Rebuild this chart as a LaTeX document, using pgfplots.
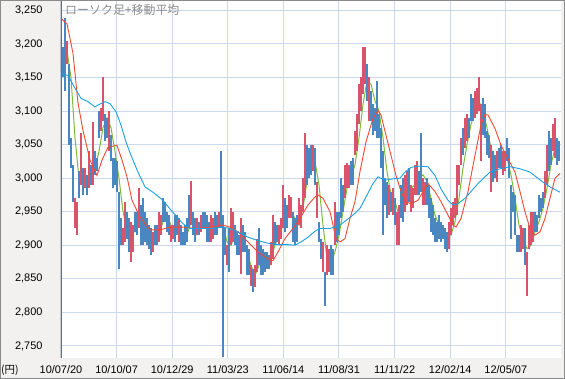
\documentclass[border=0pt]{standalone}
\usepackage{pgfplots}
\usepackage{pgfplotstable}
\pgfplotsset{compat=1.18}
\usepackage{fontspec}
\setmainfont{Liberation Sans}
\newfontfamily\jp{Noto Sans CJK JP}
\definecolor{candleRed}{HTML}{D9546A}
\definecolor{candleBlue}{HTML}{4A86C0}
\definecolor{maGreen}{HTML}{7DBB3C}
\definecolor{maRed}{HTML}{F04A30}
\definecolor{maBlue}{HTML}{1BA1E2}
\definecolor{gridBlue}{HTML}{CCD8EE}
\definecolor{bgGray}{HTML}{F2F1EF}
\definecolor{frameGray}{HTML}{8A8A8A}
\definecolor{axisGray}{HTML}{6E6E6E}
\definecolor{titleGray}{HTML}{8C8C8C}

\pgfplotstableread{
x lo hi c
0 3160 3210 1
2 3150 3195 0
4 3130 3238 0
6 3170 3205 1
8 3050 3170 0
10 3015 3060 0
12 2965 3020 0
14 2925 2970 1
16 2915 2965 1
18 2970 3010 0
20 2990 3068 1
22 2975 3015 0
24 2985 3015 1
26 2975 3005 0
28 2985 3040 1
30 2990 3020 0
32 2990 3083 1
34 3005 3040 0
36 3010 3030 0
38 3060 3100 0
40 3070 3105 1
42 3085 3150 1
44 3055 3095 0
46 3060 3090 0
48 3040 3100 1
50 3025 3065 0
52 2985 3030 0
54 2990 3030 0
56 2980 3025 0
58 2865 2980 0
60 2900 2940 0
62 2900 2925 1
64 2905 2965 1
66 2910 2950 0
68 2890 2940 0
70 2875 2935 1
72 2890 2930 1
74 2920 2950 0
76 2915 2950 0
78 2925 2985 1
80 2900 2960 0
82 2900 2970 0
84 2905 2950 0
86 2900 2940 0
88 2895 2930 0
90 2885 2925 0
92 2890 2920 1
94 2900 2930 0
96 2900 2930 0
98 2905 2950 1
100 2915 2945 1
102 2935 2970 0
104 2935 2965 0
106 2920 2950 0
108 2915 2945 0
110 2905 2930 1
112 2910 2930 1
114 2905 2945 0
116 2915 2945 0
118 2905 2940 1
120 2900 2930 0
122 2900 2920 0
124 2900 2930 0
126 2905 2940 0
128 2925 2975 0
130 2930 2996 1
132 2915 2950 0
134 2905 2940 0
136 2915 2940 1
138 2915 2935 0
140 2920 2945 1
142 2925 2950 0
144 2925 2950 0
146 2905 2945 0
148 2905 2935 0
150 2905 2945 1
152 2910 2940 1
154 2915 2950 0
156 2915 2945 0
158 2925 2950 1
160 2925 3040 0
162 2733 2945 0
164 2885 2925 0
166 2870 2900 1
168 2860 2925 0
170 2900 2955 1
172 2905 2950 1
174 2900 2930 0
176 2885 2920 0
178 2885 2915 0
180 2857 2940 1
182 2890 2930 0
184 2890 2920 0
186 2855 2900 0
188 2855 2895 0
190 2840 2870 1
192 2830 2865 0
194 2838 2870 1
196 2860 2910 1
198 2870 2925 0
200 2855 2900 0
202 2855 2895 0
204 2860 2890 0
206 2865 2890 0
208 2865 2885 0
210 2870 2905 1
212 2880 2945 1
214 2900 2935 0
216 2905 2930 0
218 2900 2930 1
220 2910 2940 1
222 2925 2990 1
224 2920 2970 0
226 2925 2960 0
228 2940 2975 1
230 2940 2972 1
232 2905 2950 0
234 2900 2940 0
236 2905 2945 0
238 2930 2970 1
240 2925 2960 1
242 2950 3000 1
244 2970 3068 1
246 2990 3050 0
248 3000 3045 0
250 3005 3050 0
252 3010 3050 1
254 2990 3045 0
256 2940 2995 1
258 2905 2935 0
260 2880 2910 0
262 2860 2905 1
264 2810 2860 0
266 2855 2900 1
268 2860 2895 1
270 2855 2900 0
272 2855 2895 0
274 2900 2965 1
276 2905 2950 0
278 2915 2950 0
280 2940 3000 0
282 2950 2990 0
284 2970 3020 1
286 2985 3022 1
288 2985 3020 1
290 2990 3025 0
292 2990 3030 0
294 3035 3070 1
296 3040 3095 1
298 3080 3140 1
300 3100 3150 1
302 3125 3195 1
304 3140 3195 1
306 3115 3170 0
308 3085 3150 1
310 3085 3130 0
312 3065 3110 0
314 3070 3105 0
316 3060 3145 0
318 3060 3095 0
320 3015 3075 0
322 2915 3040 0
324 2960 3000 0
326 2940 2995 0
328 2945 2990 1
330 2950 2980 0
332 2945 2985 1
334 2930 2970 0
336 2900 2950 1
338 2900 2960 1
340 2940 2990 0
342 2935 3000 0
344 2950 3005 1
346 2960 3010 1
348 2965 3015 0
350 2950 2990 1
352 2955 2985 1
354 2975 3020 1
356 2975 3025 1
358 2975 3010 0
360 2980 3068 0
362 2960 3000 1
364 2960 2995 1
366 2960 3000 0
368 2940 2990 0
370 2920 2970 0
372 2915 2960 0
374 2905 2940 0
376 2905 2935 0
378 2910 2945 0
380 2905 2935 0
382 2910 2930 0
384 2895 2925 0
386 2890 2920 0
388 2895 2935 1
390 2915 2955 1
392 2930 2965 1
394 2940 2970 1
396 2945 3020 1
398 2990 3020 1
400 3020 3060 1
402 3035 3075 0
404 3045 3090 1
406 3055 3095 1
408 3060 3090 0
410 3085 3125 0
412 3085 3120 0
414 3090 3130 1
416 3095 3135 1
418 3100 3150 1
420 3025 3110 1
422 3065 3120 0
424 3060 3110 0
426 3035 3070 0
428 3030 3065 0
430 2980 3050 1
432 2995 3040 0
434 3000 3035 0
436 2995 3040 1
438 3015 3045 0
440 3015 3050 0
442 3005 3040 1
444 3010 3040 1
446 3025 3060 0
448 3000 3045 0
450 2910 2990 0
452 2950 2980 0
454 2915 2975 0
456 2890 2915 0
458 2890 2915 0
460 2890 2930 1
462 2895 2925 1
464 2870 2925 0
466 2825 2890 1
468 2895 2930 1
470 2900 2950 1
472 2905 2950 1
474 2920 2950 0
476 2920 2945 0
478 2940 2975 0
480 2950 2970 0
482 2955 2980 0
484 2970 3010 1
486 2990 3050 1
488 3010 3070 0
490 3020 3060 0
492 3040 3080 1
494 3030 3090 1
496 3020 3060 0
498 3025 3055 0
}\candles

\pgfplotstableread{
x y
0 3190
6 3190
10 3150
14 3060
18 3000
22 2990
26 3000
30 3005
34 3015
38 3040
42 3075
46 3090
50 3075
54 3040
58 3000
62 2950
66 2925
70 2920
74 2920
78 2930
82 2935
86 2925
90 2915
94 2910
98 2915
102 2935
106 2945
110 2930
114 2920
118 2920
122 2915
126 2915
130 2935
134 2940
138 2925
142 2930
146 2935
150 2925
154 2925
158 2930
162 2930
166 2905
170 2900
174 2915
178 2905
182 2895
186 2890
190 2870
194 2855
198 2870
202 2880
206 2875
210 2880
214 2900
218 2915
222 2930
226 2945
230 2950
234 2940
238 2930
242 2955
246 2995
250 3020
254 3025
258 2990
262 2930
266 2880
270 2875
274 2890
278 2915
282 2950
286 2985
290 3000
294 3020
298 3060
302 3110
306 3145
310 3140
314 3115
318 3100
322 3060
326 3010
330 2975
334 2965
338 2945
342 2955
346 2975
350 2985
354 2990
358 3000
362 3005
366 2995
370 2970
374 2945
378 2930
382 2925
386 2915
390 2915
394 2935
398 2970
402 3015
406 3050
410 3080
414 3100
418 3115
422 3100
426 3075
430 3045
434 3025
438 3025
442 3030
446 3030
450 3005
454 2970
458 2930
462 2910
466 2895
470 2900
474 2920
478 2935
482 2955
486 2985
490 3020
494 3045
498 3050
}\maGreenTab

\pgfplotstableread{
x y
0 3238
6 3230
12 3186
17 3112
22 3071
29 3027
36 3004
41 3027
47 3046
56 3049
61 3027
66 3002
71 2967
79 2942
89 2923
99 2923
109 2927
122 2927
135 2925
149 2927
162 2930
169 2927
177 2920
187 2905
197 2890
207 2880
212 2877
217 2890
224 2910
232 2925
239 2940
247 2960
254 2972
257 2975
262 2970
269 2950
275 2910
279 2905
284 2910
289 2940
294 2965
299 3010
305 3054
312 3089
317 3101
320 3094
325 3064
330 3034
335 3004
339 2985
344 2965
350 2962
357 2967
364 2985
367 2992
374 2980
380 2965
387 2945
392 2930
395 2927
400 2940
407 2980
414 3034
420 3079
424 3095
427 3094
434 3074
440 3049
447 3029
454 3009
459 2980
464 2950
469 2925
474 2915
479 2920
484 2940
489 2970
494 3000
499 3007
}\maRedTab

\pgfplotstableread{
x y
0 3156
7 3153
14 3134
20 3119
27 3114
34 3106
37 3109
44 3114
49 3111
55 3099
60 3079
65 3054
70 3034
77 3009
84 2987
92 2979
102 2967
109 2954
115 2944
122 2932
129 2925
139 2925
149 2925
162 2927
169 2925
177 2920
187 2912
197 2907
207 2903
217 2901
227 2901
234 2900
240 2905
247 2912
254 2921
259 2925
269 2925
279 2930
285 2937
292 2945
299 2955
305 2972
312 2992
317 3002
324 2997
332 2999
339 3000
344 3009
350 3016
357 3018
367 3017
374 3004
380 2984
387 2967
392 2960
397 2962
404 2970
410 2980
417 2992
424 3002
429 3009
439 3014
449 3017
459 3014
469 3009
475 3002
482 2994
489 2987
499 2979
}\maBlueTab

\begin{document}
\begin{tikzpicture}
\fill[bgGray] (-61bp,-21bp) rectangle (504bp,358bp);
\draw[frameGray, line width=1bp] (-60.5bp,-20.5bp) rectangle (503.5bp,357.5bp);
\begin{axis}[
  at={(0,0)}, anchor=south west,
  scale only axis, width=500bp, height=357bp,
  xmin=0, xmax=500, ymin=2732, ymax=3264,
  axis background/.style={fill=white},
  axis line style={draw=none},
  xtick={0,55.6,111.2,166.8,222.4,278,333.6,389.2,444.8},
  xticklabels={10/07/20,10/10/07,10/12/29,11/03/23,11/06/14,11/08/31,11/11/22,12/02/14,12/05/07},
  ytick={2750,2800,...,3250},
  major tick length=0pt,
  grid=major,
  major grid style={gridBlue, line width=1bp},
  /pgf/number format/assume math mode=true,
  /pgf/number format/1000 sep={,},
  ticklabel style={font=\fontsize{11}{13}\selectfont, text=black},
  xticklabel style={yshift=-4bp},
  yticklabel style={xshift=-15bp},
  clip=true,
]
\addplot[maGreen, line width=1bp, forget plot] table[x=x, y=y] {\maGreenTab};
\addplot[forget plot, draw=none, mark=none,
  restrict expr to domain={\thisrow{c}}{0:0},
  error bars/.cd, y dir=plus, y explicit, error mark=none,
  error bar style={draw=candleBlue, line width=1.6bp}]
  table[x=x, y=lo, y error expr=\thisrow{hi}-\thisrow{lo}] {\candles};
\addplot[forget plot, draw=none, mark=none,
  restrict expr to domain={\thisrow{c}}{1:1},
  error bars/.cd, y dir=plus, y explicit, error mark=none,
  error bar style={draw=candleRed, line width=1.6bp}]
  table[x=x, y=lo, y error expr=\thisrow{hi}-\thisrow{lo}] {\candles};
\addplot[maRed, line width=0.9bp, forget plot] table[x=x, y=y] {\maRedTab};
\addplot[maBlue, line width=0.9bp, forget plot] table[x=x, y=y] {\maBlueTab};
\draw[axisGray, line width=1.5bp] (rel axis cs:0,0) -- (rel axis cs:0,1);
\node[anchor=north west, inner sep=0pt, text=titleGray, font=\jp\fontsize{12}{14}\selectfont]
  at (rel axis cs:0,1) [xshift=4bp, yshift=-3bp] {ローソク足+移動平均};
\end{axis}
\node[anchor=west, inner sep=0pt, font=\jp\fontsize{10.5}{12}\selectfont] at (-60bp,-12bp) {(円)};
\end{tikzpicture}
\end{document}
